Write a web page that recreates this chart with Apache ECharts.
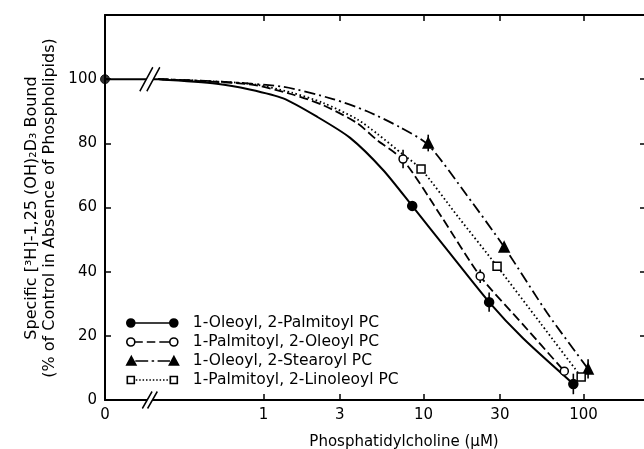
<!DOCTYPE html>
<html><head><meta charset="utf-8">
<script src="https://cdn.jsdelivr.net/npm/echarts@6/dist/echarts.min.js"></script>
<style>html,body{margin:0;padding:0;background:#fff}#c{width:644px;height:449px}</style>
</head><body><div id="c"></div>
<script>
// ---- data ----
const xTickConc = [0, 1, 3, 10, 30, 100];
const xTickLabels = ['0', '1', '3', '10', '30', '100'];
const yTickValues = [0, 20, 40, 60, 80, 100];
const seriesNames = ['1-Oleoyl, 2-Palmitoyl PC', '1-Palmitoyl, 2-Oleoyl PC', '1-Oleoyl, 2-Stearoyl PC', '1-Palmitoyl, 2-Linoleoyl PC'];
const xTitle = 'Phosphatidylcholine (\u03bcM)';
const yTitle1 = 'Specific [\u00b3H]-1,25 (OH)\u2082D\u2083 Bound';
const yTitle2 = '(% of Control in Absence of Phospholipids)';

const controlPoint = [[0, 100]];
const controlLine = [[0, 100], [0.22, 100]];
const breakMarks = [[0.195, 100], [0.195, 0]];

const curveOP = [[0.22,100],[0.51,98.6],[0.82,96.8],[1.33,94],[2.16,88.3],[3.48,81.7],[5.59,71.7],[8.5,60.5],[14.1,46.7],[25.7,30.5],[41.7,19.3],[86.3,5]];
const curvePO = [[0.22,100],[0.82,98.4],[1.5,95.3],[2.36,91.9],[3.85,86.3],[5.13,81],[7.45,74.8],[13,57],[22.6,38.6],[42,23.4],[75.8,9]];
const curveOS = [[0.22,100],[0.51,99.3],[1.33,97.6],[2.72,93.8],[4.44,90],[7.14,85],[10.7,79.5],[18.6,63.9],[31.9,47.7],[59.3,27.1],[106.7,9.7]];
const curvePL = [[0.22,100],[0.82,98.6],[1.5,95.8],[2.36,92.6],[3.85,87.5],[5.13,83],[7.45,76.5],[9.65,72],[16.5,57],[28.8,41.7],[53.7,24],[96.6,7.2]];

const ptsOP = [[8.5,60.5],[25.7,30.5],[86.3,5]];
const ptsPO = [[7.45,75.1],[22.6,38.6],[75.8,9]];
const ptsOS = [[10.7,80.1],[31.9,47.7],[106.7,9.7]];
const ptsPL = [[9.65,72],[28.8,41.7],[96.6,7.2]];

const errOP = [[25.7,27.5,33.5],[86.3,1.8,8.2]];
const errPO = [[7.45,72.2,78],[22.6,36.5,40.7]];
const errOS = [[10.7,77.5,82.7],[106.7,6.7,12.7]];

// ---- helpers ----
const X_MIN = -0.99, X_MAX = 2.39;
const tx = c => (c <= 0 ? X_MIN : Math.log10(c));
const conv = arr => arr.map(p => [tx(p[0]), p[1]]);
const convErr = arr => arr.map(p => [tx(p[0]), p[1], p[2]]);
const xLabelVals = xTickConc.map(tx);
const xTickVals = xTickConc.filter(c => c > 0).map(tx);
const FONT = 'DejaVu Sans';

function circ(cx) { return `M${cx+4},5 A4,4 0 1 1 ${cx-4},5 A4,4 0 1 1 ${cx+4},5 Z `; }
function tri(cx) { return `M${cx},0.5 L${cx+4.6},9 L${cx-4.6},9 Z `; }
function sq(cx) { return `M${cx-3.5},1.5 L${cx+3.5},1.5 L${cx+3.5},8.5 L${cx-3.5},8.5 Z `; }
const box = 'M0,0 M61,10';
let dots = '';
for (let d = 9; d < 43; d += 3.4) dots += `M${d.toFixed(1)},5 L${(d+1.5).toFixed(1)},5 `;
const icons = [
  'path://' + circ(4) + 'M8,5 L43,5 ' + circ(47) + box,
  'path://' + circ(4) + 'M8,5 L16,5 M20,5 L28.5,5 M32.5,5 L43,5 ' + circ(47) + box,
  'path://' + tri(4) + 'M8,5 L21,5 M24.5,5 L27,5 M30.5,5 L43,5 ' + tri(47) + box,
  'path://' + sq(4) + dots + sq(47) + box
];

const axisLineStyle = { color: '#000', width: 2 };
const tickStyle = { color: '#000', width: 1.5 };
const labelStyle = { color: '#000', fontSize: 15, fontFamily: FONT };

function curve(name, data, type, width) {
  return { name: name, type: 'line', data: conv(data), showSymbol: false, symbol: 'none',
    smooth: 0.25, z: 2, silent: true,
    lineStyle: { color: '#000', width: width, type: type, cap: 'butt' } };
}
function markers(name, data, symbol, size, fill) {
  return { name: name, type: 'scatter', data: conv(data), symbol: symbol, symbolSize: size, z: 5, clip: false,
    itemStyle: { color: fill, borderColor: '#000', borderWidth: 1.5, opacity: 1 } };
}
function errBars(data) {
  return { type: 'custom', data: convErr(data), z: 3, clip: false, encode: { x: 0, y: [1, 2] },
    renderItem: function (params, api) {
      const a = api.coord([api.value(0), api.value(1)]);
      const b = api.coord([api.value(0), api.value(2)]);
      return { type: 'line', shape: { x1: a[0], y1: a[1], x2: b[0], y2: b[1] }, style: { stroke: '#000', lineWidth: 1.6 } };
    } };
}

const chart = echarts.init(document.getElementById('c'), null, { renderer: 'canvas' });
chart.setOption({
  animation: false,
  backgroundColor: '#fff',
  grid: { left: 105, right: -2, top: 15, bottom: 49, containLabel: false, outerBoundsMode: 'none' },
  xAxis: [
    { type: 'value', min: X_MIN, max: X_MAX, position: 'bottom',
      axisLine: { show: true, onZero: false, lineStyle: axisLineStyle },
      axisTick: { show: true, inside: true, length: 6, lineStyle: tickStyle, customValues: xTickVals },
      axisLabel: { show: true, margin: 8, ...labelStyle, customValues: xLabelVals,
        formatter: function (v) { for (let i = 0; i < xLabelVals.length; i++) { if (Math.abs(xLabelVals[i] - v) < 1e-6) return xTickLabels[i]; } return ''; } },
      splitLine: { show: false } },
    { type: 'value', min: X_MIN, max: X_MAX, position: 'top',
      axisLine: { show: true, onZero: false, lineStyle: axisLineStyle },
      axisTick: { show: true, inside: true, length: 6, lineStyle: tickStyle, customValues: xTickVals },
      axisLabel: { show: false }, splitLine: { show: false } }
  ],
  yAxis: [
    { type: 'value', min: 0, max: 120, interval: 20, position: 'left',
      axisLine: { show: true, onZero: false, lineStyle: axisLineStyle },
      axisTick: { show: true, inside: true, length: 6, lineStyle: tickStyle, customValues: yTickValues },
      axisLabel: { show: true, margin: 8, ...labelStyle, customValues: yTickValues },
      splitLine: { show: false } },
    { type: 'value', min: 0, max: 120, interval: 20, position: 'right',
      axisLine: { show: true, onZero: false, lineStyle: axisLineStyle },
      axisTick: { show: true, inside: true, length: 6, lineStyle: tickStyle, customValues: yTickValues },
      axisLabel: { show: false }, splitLine: { show: false } }
  ],
  legend: {
    orient: 'vertical', left: 121, top: 310, itemWidth: 61, itemHeight: 10, itemGap: 3,
    selectedMode: false,
    itemStyle: { borderWidth: 1.6 },
    textStyle: { color: '#000', fontSize: 15.5, fontFamily: FONT },
    data: seriesNames.map((n, i) => ({ name: n, icon: icons[i] }))
  },
  graphic: [
    { type: 'text', x: 404, y: 442, silent: true,
      style: { text: xTitle, fontSize: 15, fontFamily: FONT, fill: '#000', align: 'center', verticalAlign: 'middle', textAlign: 'center', textVerticalAlign: 'middle' } },
    { type: 'text', x: 41, y: 208, rotation: Math.PI / 2, silent: true,
      style: { text: yTitle1 + '\n' + yTitle2, fontSize: 16, lineHeight: 18, fontFamily: FONT, fill: '#000', align: 'center', verticalAlign: 'middle', textAlign: 'center', textVerticalAlign: 'middle' } }
  ],
  series: [
    { type: 'line', data: conv(controlLine), showSymbol: false, symbol: 'none', z: 2, silent: true, lineStyle: { color: '#000', width: 2 } },
    curve('c1', curveOP, 'solid', 2),
    curve('c2', curvePO, [9, 4], 1.8),
    curve('c3', curveOS, [11, 4, 2, 4], 1.8),
    curve('c4', curvePL, [1.6, 2.6], 1.8),
    errBars(errOP), errBars(errPO), errBars(errOS),
    markers(seriesNames[0], ptsOP, 'circle', 9, '#000'),
    markers(seriesNames[1], ptsPO, 'circle', 8, '#fff'),
    markers(seriesNames[2], ptsOS, 'triangle', 10, '#000'),
    markers(seriesNames[3], ptsPL, 'rect', 8, '#fff'),
    { type: 'scatter', data: conv(controlPoint), symbol: 'circle', symbolSize: 9, z: 6, clip: false,
      itemStyle: { color: '#000', borderColor: '#000', borderWidth: 1 } },
    { type: 'scatter', data: conv(breakMarks), z: 7, clip: false, silent: true,
      symbol: 'path://M0,24 L13,0 L20,0 L7,24 Z',
      symbolSize: v => (v[1] > 50 ? [20, 24] : [15, 17]),
      itemStyle: { color: '#fff', borderWidth: 0, opacity: 1 } },
    { type: 'scatter', data: conv(breakMarks), z: 8, clip: false, silent: true,
      symbol: 'path://M0,24 L13,0 M7,24 L20,0',
      symbolSize: v => (v[1] > 50 ? [20, 24] : [15, 17]),
      itemStyle: { color: 'none', borderColor: '#000', borderWidth: 1.6, opacity: 1 } }
  ]
});
</script>
</body></html>
